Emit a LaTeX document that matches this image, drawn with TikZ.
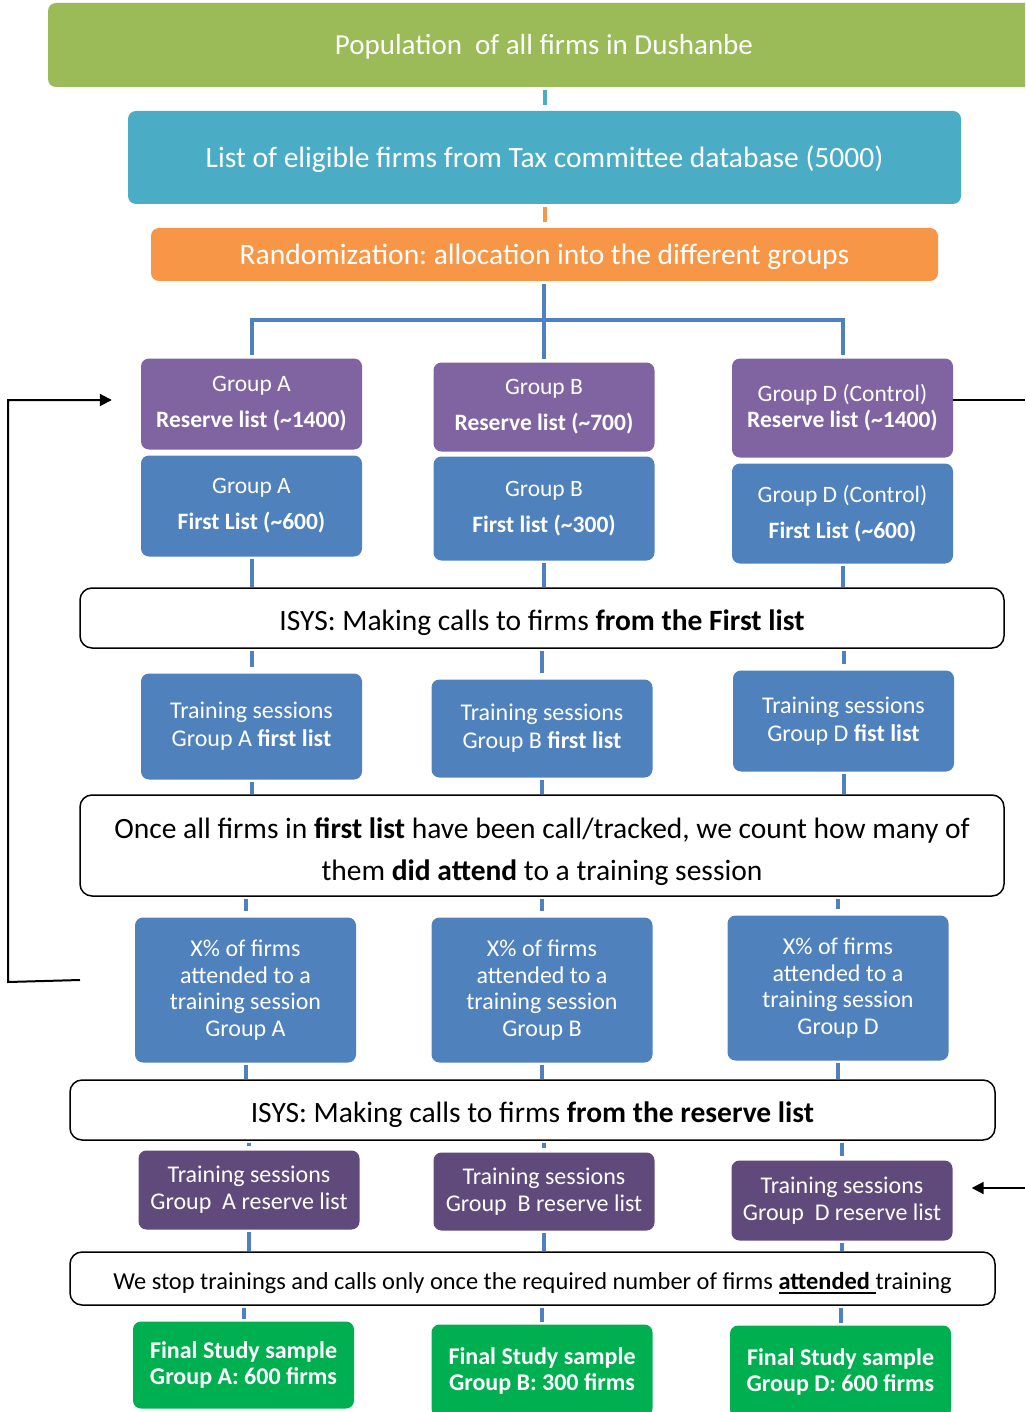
\documentclass[tikz,border=0pt]{standalone}
\usepackage{fontspec}
\setmainfont{Carlito}
\usetikzlibrary{arrows.meta}
\definecolor{cGreen}{HTML}{9BBB59}
\definecolor{cTeal}{HTML}{4BACC6}
\definecolor{cOrange}{HTML}{F79646}
\definecolor{cPurple}{HTML}{8064A2}
\definecolor{cBlue}{HTML}{4F81BD}
\definecolor{cDPurple}{HTML}{604A7B}
\definecolor{cFinal}{HTML}{00B050}
\newcommand\myul[1]{\setbox0\hbox{#1}\rlap{\rule[-4pt]{\wd0}{2pt}}\box0}
\newcommand\lowr[2]{\raisebox{-#1}[\height][\depth]{#2}}
\frenchspacing
\begin{document}
\begin{tikzpicture}[x=1pt,y=-1pt,
  box/.style={rounded corners=8pt, text=white, inner sep=0pt, align=center},
  wbox/.style={rounded corners=12pt, draw=black, line width=1.5pt, fill=white, text=black, inner sep=0pt, align=center},
  conn/.style={line width=4pt, draw=cBlue, shorten <=2pt, shorten >=4pt},
  fb/.style={line width=2pt, draw=black},
  fbarrow/.style={fb, -{Triangle[length=12pt,width=12pt]}},
  grp/.style={box, minimum width=221pt, font=\fontsize{23.5}{36}\selectfont},
  trn/.style={box, minimum width=221pt, font=\fontsize{24}{28}\selectfont},
]
\clip (0,0) rectangle (1025,1412);

% top chain
\node[box, fill=cGreen, minimum width=992pt, minimum height=84pt, font=\fontsize{29}{30}\selectfont] (pop) at (544,45) {\lowr{2pt}{Population\ \ of all firms in Dushanbe}};
\node[box, fill=cTeal, minimum width=833pt, minimum height=93pt, font=\fontsize{29.5}{30}\selectfont] (tax) at (544.5,157.5) {\lowr{2pt}{List of eligible firms from Tax committee database (5000)}};
\node[box, fill=cOrange, minimum width=787pt, minimum height=53pt, font=\fontsize{29.5}{30}\selectfont] (rand) at (544.5,254.5) {\lowr{2pt}{Randomization: allocation into the different groups}};

% reserve lists
\node[grp, fill=cPurple, minimum height=91pt] (resA) at (251.5,404) {Group A\\\textbf{Reserve list (\textasciitilde1400)}};
\node[grp, fill=cPurple, minimum height=89pt] (resB) at (544,407) {Group B\\\textbf{Reserve list (\textasciitilde700)}};
\node[grp, fill=cPurple, minimum height=99pt, font=\fontsize{23.5}{26}\selectfont] (resD) at (842.5,408) {Group D (Control)\\\textbf{Reserve list (\textasciitilde1400)}};

% first lists
\node[grp, fill=cBlue, minimum height=101pt] (firA) at (251.5,506) {Group A\\\textbf{First List (\textasciitilde600)}};
\node[grp, fill=cBlue, minimum height=104pt] (firB) at (544,508.5) {Group B\\\textbf{First list (\textasciitilde300)}};
\node[grp, fill=cBlue, minimum height=100pt] (firD) at (842.5,513.5) {Group D (Control)\\\textbf{First List (\textasciitilde600)}};

% ISYS first
\node[wbox, minimum width=924pt, minimum height=60pt, font=\fontsize{29.5}{30}\selectfont] (isysA) at (542,618) {\lowr{5pt}{ISYS: Making calls to firms \textbf{from the First list}}};

% training first
\node[trn, fill=cBlue, minimum height=106pt] (trA) at (251.5,726.5) {Training sessions\\Group A \textbf{first list}};
\node[trn, fill=cBlue, minimum height=98pt] (trB) at (542,728.5) {Training sessions\\Group B \textbf{first list}};
\node[trn, fill=cBlue, minimum height=101pt] (trD) at (843.5,721) {Training sessions\\Group D \textbf{fist list}};

% once box
\node[wbox, minimum width=924pt, minimum height=101pt, font=\fontsize{29.5}{42}\selectfont] (once) at (542,845.5) {\lowr{6pt}{\parbox{920pt}{\centering Once all firms in \textbf{first list} have been call/tracked, we count how many of\\them \textbf{did attend} to a training session}}};

% X% boxes
\node[trn, fill=cBlue, minimum height=145pt, font=\fontsize{24}{26.5}\selectfont] (xA) at (245.5,990) {X\% of firms\\attended to a\\training session\\Group A};
\node[trn, fill=cBlue, minimum height=145pt, font=\fontsize{24}{26.5}\selectfont] (xB) at (542,990) {X\% of firms\\attended to a\\training session\\Group B};
\node[trn, fill=cBlue, minimum height=145pt, font=\fontsize{24}{26.5}\selectfont] (xD) at (838,988) {X\% of firms\\attended to a\\training session\\Group D};

% ISYS reserve
\node[wbox, minimum width=925pt, minimum height=60pt, font=\fontsize{29.5}{30}\selectfont] (isysB) at (532.5,1110) {\lowr{5pt}{ISYS: Making calls to firms \textbf{from the reserve list}}};

% training reserve
\node[trn, fill=cDPurple, minimum height=79pt, font=\fontsize{24}{27}\selectfont] (rtA) at (249,1190) {Training sessions\\Group\ \ A reserve list};
\node[trn, fill=cDPurple, minimum height=78pt, font=\fontsize{24}{27}\selectfont] (rtB) at (544,1191.5) {Training sessions\\Group\ \ B reserve list};
\node[trn, fill=cDPurple, minimum height=80pt, font=\fontsize{24}{27}\selectfont] (rtD) at (842,1200.5) {Training sessions\\Group\ \ D reserve list};

% stop box
\node[wbox, minimum width=925pt, minimum height=53pt, font=\fontsize{24.4}{26}\selectfont] (stop) at (532.5,1278.5) {\lowr{5pt}{We stop trainings and calls only once the required number of firms \myul{\textbf{attended}\ }training}};

% final
\node[trn, fill=cFinal, minimum height=87pt, font=\bfseries\fontsize{24}{26}\selectfont] (finA) at (243.5,1365) {Final Study sample\\Group A: 600 firms};
\node[trn, fill=cFinal, minimum height=92pt, font=\bfseries\fontsize{24}{26}\selectfont] (finB) at (542,1370.5) {Final Study sample\\Group B: 300 firms};
\node[trn, fill=cFinal, minimum height=92pt, font=\bfseries\fontsize{24}{26}\selectfont] (finD) at (840.5,1371.5) {Final Study sample\\Group D: 600 firms};

% top connectors
\draw[conn, draw=cTeal, shorten <=3pt, shorten >=6pt] (pop.south -| tax.north) -- (tax.north);
\draw[conn, draw=cOrange, shorten <=3pt, shorten >=6pt] (tax.south -| rand.north) -- (rand.north);
\coordinate (bar) at (544,320);
\draw[conn, shorten <=3pt, shorten >=3pt] (rand.south -| resB.north) -- (resB.north);
\draw[conn, shorten <=3pt, shorten >=3pt] (resA.north) -- (resA.north |- bar) -- (resD.north |- bar) -- (resD.north);

% first list -> ISYS
\foreach \n in {firA,firB,firD}{\draw[conn, shorten >=0pt] (\n.south) -- (\n.south |- isysA.north);}
% ISYS -> training
\foreach \n in {trA,trB,trD}{\draw[conn, shorten >=6pt] (\n.north |- isysA.south) -- (\n.north);}
% training -> once
\foreach \n in {trA,trB,trD}{\draw[conn, shorten >=0pt] (\n.south) -- (\n.south |- once.north);}
% once -> X
\foreach \n in {xA,xB,xD}{\draw[conn, shorten >=6pt] (\n.north |- once.south) -- (\n.north);}
% X -> ISYS reserve
\foreach \n in {xA,xB,xD}{\draw[conn, shorten >=0pt] (\n.south) -- (\n.south |- isysB.north);}
% ISYS reserve -> training reserve
\foreach \n in {rtA,rtB,rtD}{\draw[conn, shorten >=4pt] (\n.north |- isysB.south) -- (\n.north);}
% training reserve -> stop
\foreach \n in {rtA,rtB,rtD}{\draw[conn, shorten >=0pt] (\n.south) -- (\n.south |- stop.north);}
% stop -> final
\foreach \n in {finA,finB,finD}{\draw[conn, shorten >=2pt] (\n.north |- stop.south) -- (\n.north);}

% feedback lines
\coordinate (lfa) at (80,980);
\coordinate (lfb) at (8,982);
\coordinate (lfc) at (8,400);
\draw[fbarrow, shorten >=29pt] (lfa) -- (lfb) -- (lfc) -- (resA.west |- lfc);
\coordinate (rfa) at (1025,400);
\draw[fb] (resD.east |- rfa) -- (rfa);
\coordinate (rfb) at (1025,1188);
\draw[fbarrow, shorten >=19pt] (rfb) -- (rtD.east |- rfb);
\end{tikzpicture}
\end{document}
